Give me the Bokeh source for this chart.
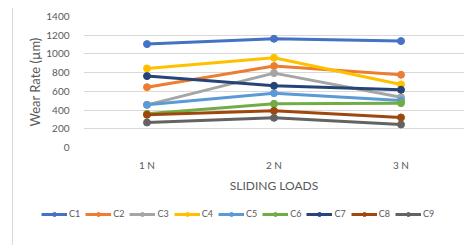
from bokeh.plotting import figure
from bokeh.layouts import column
from bokeh.models import Legend, LegendItem, FactorRange, Range1d, SingleIntervalTicker
from bokeh.embed import file_html
from bokeh.resources import INLINE

loads = ["1 N", "2 N", "3 N"]
names = ["C1", "C2", "C3", "C4", "C5", "C6", "C7", "C8", "C9"]
C1 = [1105, 1162, 1137]
C2 = [645, 870, 777]
C3 = [456, 795, 538]
C4 = [845, 959, 674]
C5 = [456, 581, 503]
C6 = [360, 467, 474]
C7 = [763, 660, 617]
C8 = [349, 392, 321]
C9 = [267, 317, 246]
series = [C1, C2, C3, C4, C5, C6, C7, C8, C9]
colors = ["#4472C4", "#ED7D31", "#A5A5A5", "#FFC000", "#5B9BD5",
          "#70AD47", "#264478", "#9E480E", "#636363"]

FONT = "Lato"
TXT = "#595959"

p = figure(width=459, height=187, x_range=FactorRange(*loads, range_padding=0),
           y_range=Range1d(0, 1400), output_backend="svg", toolbar_location=None,
           min_border_left=70, min_border_right=8, min_border_top=8, min_border_bottom=20)
p.outline_line_color = None
p.frame_align = False
p.styles = {"border-left": "1px solid #d9d9d9", "margin-left": "12px", "margin-top": "8px"}

for n, s, c in zip(names, series, colors):
    p.line(loads, s, line_color=c, line_width=3)
    p.scatter(loads, s, size=7, fill_color=c, line_color=c)

p.yaxis.ticker = SingleIntervalTicker(interval=200)
p.ygrid.grid_line_color = "#d9d9d9"
p.xgrid.grid_line_color = None
for ax in (p.xaxis[0], p.yaxis[0]):
    ax.axis_line_color = None
    ax.major_tick_line_color = None
    ax.minor_tick_line_color = None
    ax.major_label_text_font = FONT
    ax.major_label_text_font_size = "10px"
    ax.major_label_text_color = TXT
    ax.axis_label_text_font = FONT
    ax.axis_label_text_font_size = "12px"
    ax.axis_label_text_color = TXT
    ax.axis_label_text_font_style = "normal"
p.yaxis.axis_label_text_font_size = "13px"
p.yaxis.axis_label = "Wear Rate (µm)"
p.xaxis.axis_label = "SLIDING LOADS"
p.xaxis.major_label_standoff = 5
p.xaxis.axis_label_standoff = 4
p.yaxis.major_label_standoff = 8
p.yaxis.axis_label_standoff = 0

# legend strip: same series drawn outside the visible range, only the legend shows
lg = figure(width=459, height=50, x_range=FactorRange(*loads, range_padding=0),
            y_range=Range1d(5000, 6000), output_backend="svg", toolbar_location=None,
            min_border_left=0, min_border_right=0, min_border_top=0, min_border_bottom=0)
lg.outline_line_color = None
lg.frame_align = False
lg.axis.visible = False
lg.grid.visible = False
lg.styles = {"border-left": "1px solid #d9d9d9", "margin-left": "12px"}
items = []
for n, s, c in zip(names, series, colors):
    r1 = lg.line(loads, s, line_color=c, line_width=3)
    r2 = lg.scatter(loads, s, size=7, fill_color=c, line_color=c)
    items.append(LegendItem(label=n, renderers=[r1, r2]))
legend = Legend(items=items, orientation="horizontal", location=(28, 26),
                label_text_font=FONT, label_text_font_size="9px", label_text_color=TXT,
                glyph_width=26, glyph_height=10, label_width=0, label_standoff=2, spacing=5,
                border_line_color=None, background_fill_alpha=0, padding=2, margin=0)
lg.add_layout(legend, "center")

layout = column(p, lg, spacing=0)
open("out.html", "w").write(file_html(layout, INLINE))
